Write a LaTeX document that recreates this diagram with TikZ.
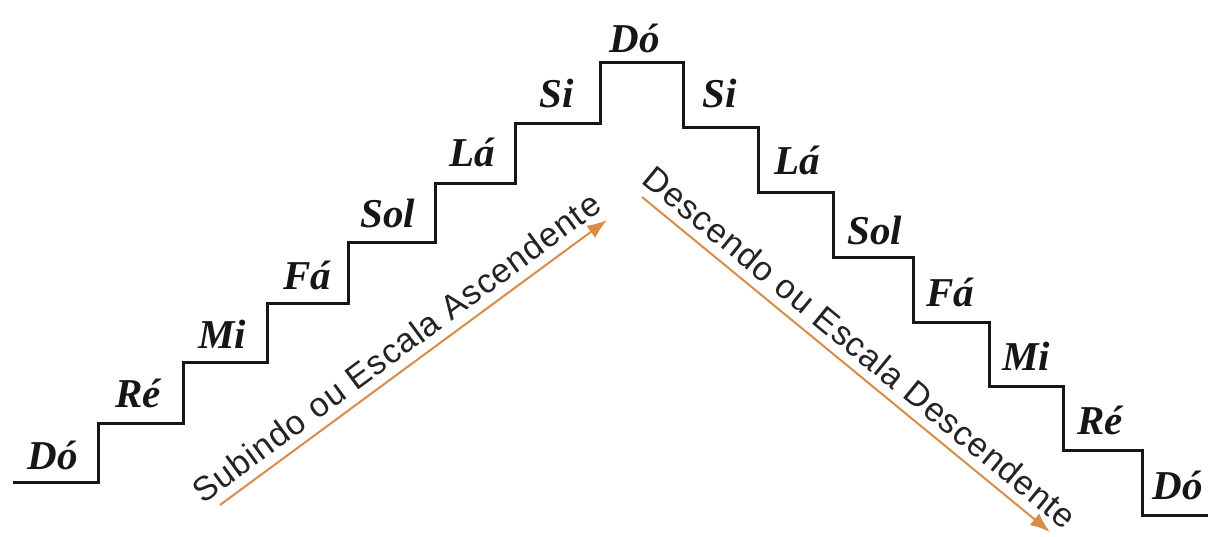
\documentclass[tikz,border=0pt]{standalone}
\usepackage{fontspec}
\setmainfont{Liberation Serif}
\setsansfont{Liberation Sans}[LetterSpace=3]
\usetikzlibrary{positioning,arrows.meta}
\definecolor{stairink}{RGB}{22,22,22}
\definecolor{arroworange}{RGB}{216,140,72}
\definecolor{textink}{RGB}{35,35,35}

\begin{document}
\begin{tikzpicture}[x=1pt, y=-1pt,
  stair/.style={draw=stairink, line width=3pt, line join=miter},
  note/.style={font=\fontsize{41}{44}\selectfont\bfseries\itshape, text=stairink, inner sep=0pt},
  scalearrow/.style={draw=arroworange, line width=2pt, -{Latex[length=20pt,width=15pt]}},
  scalelabel/.style={font=\sffamily\fontsize{34}{38}\selectfont, text=textink, sloped, above, inner sep=9pt},
]
\useasboundingbox (0,0) rectangle (1210,536);

% ---- staircase ----
\draw[stair] (13,482) -| (98,423) -| (183,362) -| (267,303) -| (348,242)
  -| (435,183) -| (515,123) -| (600,62) -- (683,62)
  |- (758,127) |- (833,192) |- (913,257) |- (989,322) |- (1063,386)
  |- (1142,450) |- (1208,515);

% ---- notes going up ----
\node[note] (upDo)  at (53,455)  {Dó};
\node[note] (upRe)  at (138,393) {Ré};
\node[note] (upMi)  at (222,334) {Mi};
\node[note] (upFa)  at (307,275) {Fá};
\node[note] (upSol) at (388,213) {Sol};
\node[note] (upLa)  at (472,152) {Lá};
\node[note] (upSi)  at (557,93)  {Si};

% top of the scale
\node[note] (topDo) at (635,38) {Dó};

% ---- notes going down ----
\node[note] (dnSi)  at (720,93)  {Si};
\node[note] (dnLa)  at (797,160) {Lá};
\node[note] (dnSol) at (875,230) {Sol};
\node[note] (dnFa)  at (950,292) {Fá};
\node[note] (dnMi)  at (1026,356) {Mi};
\node[note] (dnRe)  at (1100,420) {Ré};
\node[note] (dnDo)  at (1178,485) {Dó};

% ---- arrows ----
\coordinate (ascTail) at (220,505);
\coordinate (ascTip)  at (607,220);
\coordinate (descTail) at (642,197);
\coordinate (descTip)  at (1050,532);

\draw[scalearrow] (ascTail) -- node[scalelabel, pos=0.49] {Subindo ou Escala Ascendente} (ascTip);
\draw[scalearrow] (descTail) -- node[scalelabel, pos=0.5] {Descendo ou Escala Descendente} (descTip);

\end{tikzpicture}
\end{document}
